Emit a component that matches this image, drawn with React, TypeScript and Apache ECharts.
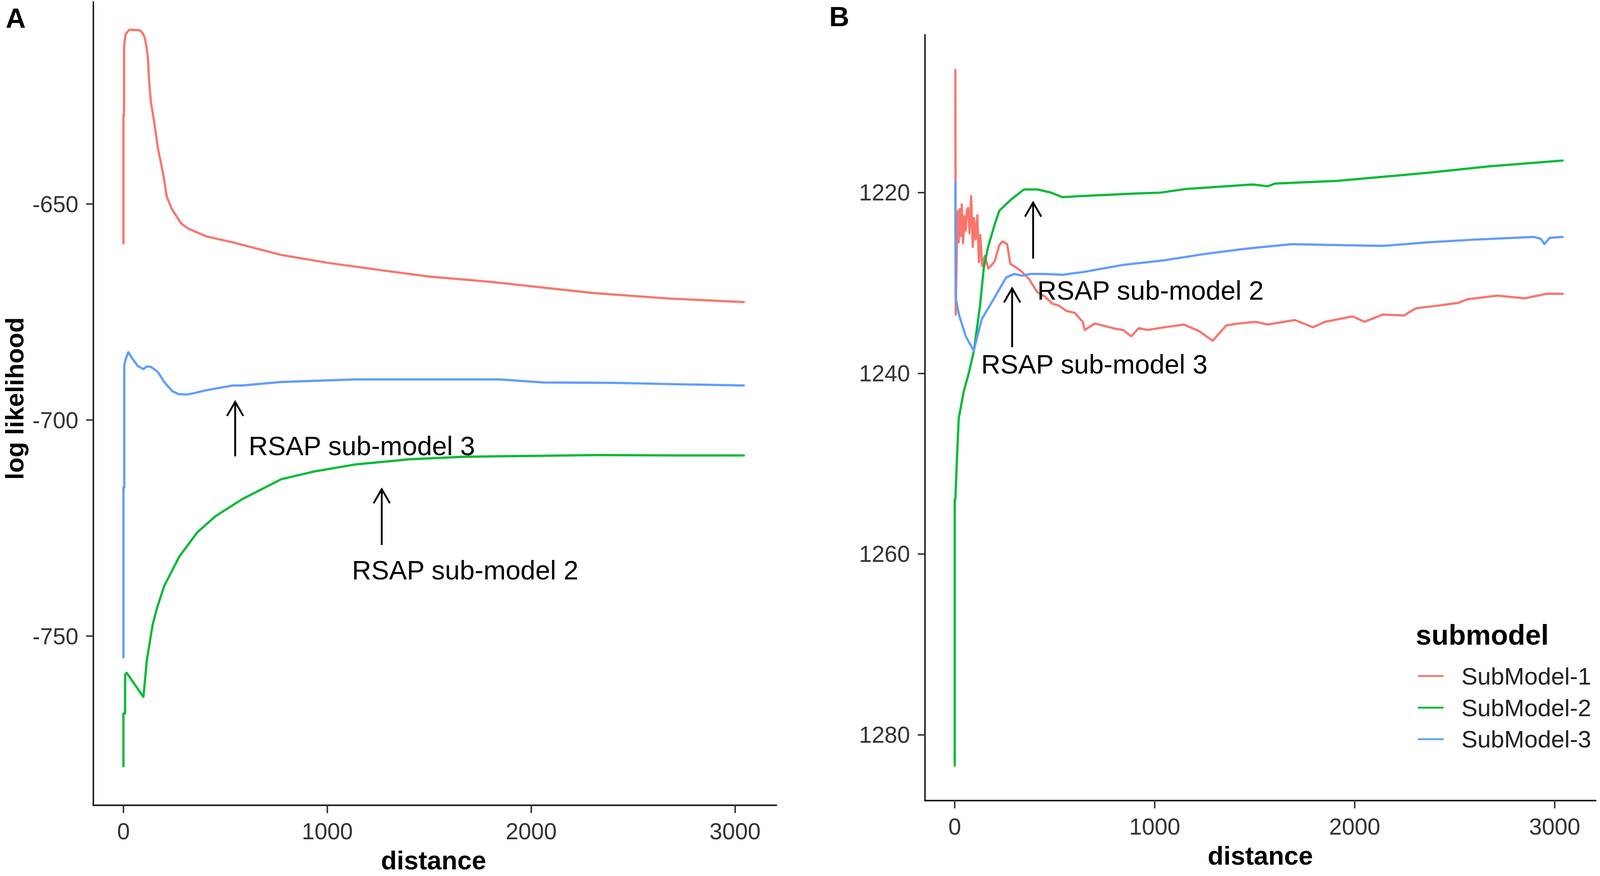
import React, { useEffect, useRef, useState } from "react";
import * as echarts from "echarts";

const FONT = "'Liberation Sans', Arial, Helvetica, sans-serif";

const seriesNames = ["SubModel-1", "SubModel-2", "SubModel-3"];
const seriesColors = ["#F8766D", "#00BA38", "#619CFF"];

const xTickValues = [0, 1000, 2000, 3000];
const yTickValuesA = [-750, -700, -650];
const yTickValuesB = [1220, 1240, 1260, 1280];

// Panel A (distance, log likelihood)
const redA: [number, number][] = [
  [0, -659.1], [0, -629.5], [3, -629.5], [3, -613.5], [10, -610.8], [28, -609.7], [46, -609.7],
  [80, -609.8], [95, -610.5], [103, -611.3], [112, -613.3], [120, -616.1], [125, -621.0],
  [134, -626.2], [151, -631.1], [169, -637.1], [195, -643.1], [213, -648.4], [239, -651.3],
  [283, -654.5], [318, -655.7], [407, -657.5], [538, -658.9], [774, -661.8], [1000, -663.6],
  [1291, -665.5], [1500, -666.8], [1797, -668.0], [2303, -670.6], [2683, -671.9], [3043, -672.7],
];
const greenA: [number, number][] = [
  [0, -780.1], [0, -767.9], [8, -767.9], [8, -759.0], [16, -758.5], [98, -764.1], [115, -755.5],
  [143, -747.4], [164, -743.6], [200, -738.4], [274, -731.6], [362, -726.0], [450, -722.3],
  [583, -718.3], [774, -713.7], [936, -711.9], [1134, -710.3], [1291, -709.6], [1398, -709.1],
  [1662, -708.5], [2000, -708.3], [2322, -708.1], [2700, -708.2], [3043, -708.2],
];
const blueA: [number, number][] = [
  [0, -754.9], [0, -715.6], [4, -715.6], [4, -687.5], [10, -686.0], [24, -684.3], [40, -685.5],
  [70, -687.5], [98, -688.2], [115, -687.6], [134, -687.7], [150, -688.2], [169, -688.9],
  [200, -691.2], [239, -693.3], [270, -694.0], [310, -694.1], [343, -693.8], [406, -693.1],
  [538, -692.0], [581, -692.0], [774, -691.2], [1134, -690.6], [1847, -690.6], [2059, -691.3],
  [2412, -691.4], [2700, -691.7], [3043, -692.0],
];

// Panel B (distance, reversed scale)
const redB: [number, number][] = [
  [3, 1206.4], [5, 1233.5], [11, 1225.3], [16, 1222.0], [20, 1225.5], [26, 1221.8], [31, 1224.8],
  [35, 1221.3], [42, 1225.6], [48, 1222.6], [55, 1224.2], [61, 1221.9], [67, 1221.7], [74, 1224.5],
  [82, 1220.4], [90, 1226.0], [96, 1222.8], [104, 1225.2], [113, 1222.5], [121, 1227.7],
  [128, 1224.7], [137, 1228.1], [150, 1227.0], [168, 1228.4], [185, 1228.0], [200, 1227.6],
  [223, 1225.8], [239, 1225.4], [262, 1225.7], [278, 1227.9], [294, 1228.1], [333, 1228.7],
  [373, 1229.6], [412, 1231.0], [450, 1231.5], [489, 1232.3], [520, 1232.5], [559, 1233.1],
  [600, 1233.3], [640, 1234.3], [650, 1235.2], [700, 1234.5], [741, 1234.7], [790, 1235.0],
  [842, 1235.2], [883, 1235.9], [920, 1235.0], [964, 1235.2], [1050, 1234.9], [1145, 1234.6],
  [1220, 1235.3], [1290, 1236.4], [1358, 1234.7], [1415, 1234.5], [1504, 1234.3], [1565, 1234.6],
  [1700, 1234.1], [1792, 1234.9], [1852, 1234.3], [1989, 1233.7], [2049, 1234.3], [2140, 1233.5],
  [2246, 1233.6], [2306, 1232.8], [2420, 1232.5], [2518, 1232.2], [2564, 1231.8], [2715, 1231.4],
  [2851, 1231.7], [2958, 1231.2], [3040, 1231.2],
];
const greenB: [number, number][] = [
  [0, 1283.4], [0, 1254.0], [3, 1254.0], [10, 1250.0], [20, 1245.0], [45, 1242.0], [70, 1240.0],
  [95, 1237.6], [126, 1232.6], [146, 1228.2], [167, 1226.0], [200, 1223.5], [223, 1222.0],
  [280, 1220.8], [346, 1219.65], [414, 1219.65], [482, 1220.0], [538, 1220.5], [616, 1220.4],
  [897, 1220.1], [1029, 1220.0], [1155, 1219.6], [1489, 1219.1], [1565, 1219.3], [1600, 1219.0],
  [1913, 1218.7], [2367, 1217.8], [2669, 1217.1], [3040, 1216.45],
];
const blueB: [number, number][] = [
  [3, 1218.8], [5, 1231.7], [21, 1233.5], [55, 1235.9], [95, 1237.5], [135, 1234.0],
  [197, 1231.7], [257, 1229.4], [297, 1229.0], [337, 1229.2], [378, 1229.0], [450, 1229.0],
  [540, 1229.1], [600, 1228.9], [640, 1228.8], [740, 1228.4], [842, 1228.0], [1044, 1227.5],
  [1247, 1226.8], [1458, 1226.2], [1686, 1225.7], [1900, 1225.8], [2140, 1225.9], [2367, 1225.5],
  [2600, 1225.2], [2896, 1224.9], [2930, 1225.1], [2949, 1225.7], [2975, 1225.0], [3040, 1224.9],
];

// Annotations: arrows [x, yTail, x, yTip], labels [x, y]
const arrowsA: number[][] = [[548, -708.4, 548, -695.8], [1267, -728.9, 1267, -716.0]];
const labelsA = [
  { text: "RSAP sub-model 3", x: 614, y: -706.0 },
  { text: "RSAP sub-model 2", x: 1121, y: -734.7 },
];
const arrowsB: number[][] = [[392, 1227.3, 392, 1221.1], [287, 1237.1, 287, 1230.6]];
const labelsB = [
  { text: "RSAP sub-model 2", x: 413, y: 1230.8 },
  { text: "RSAP sub-model 3", x: 132, y: 1239.0 },
];

const REF_W = 4550;
const REF_H = 2242;

function buildOption(W: number, H: number) {
  const sx = W / REF_W;
  const sy = H / REF_H;
  const s = Math.sqrt(sx * sy);
  const X = (v: number) => v * sx;
  const Y = (v: number) => v * sy;
  const F = (v: number) => v * s;

  const mkX = (gridIndex: number, min: number, max: number) => ({
    type: "value",
    gridIndex,
    min,
    max,
    axisLine: { show: true, onZero: false, lineStyle: { color: "#1a1a1a", width: F(4) } },
    axisTick: { show: true, inside: false, length: Y(20), customValues: xTickValues, lineStyle: { color: "#333", width: F(4) } },
    axisLabel: {
      show: true,
      customValues: xTickValues,
      margin: Y(37),
      fontSize: F(62),
      color: "#333",
      fontFamily: FONT,
      formatter: (v: number) => String(v),
    },
    splitLine: { show: false },
  });

  const mkY = (gridIndex: number, min: number, max: number, ticks: number[], inverse: boolean) => ({
    type: "value",
    gridIndex,
    min,
    max,
    inverse,
    axisLine: { show: true, onZero: false, lineStyle: { color: "#1a1a1a", width: F(4) } },
    axisTick: { show: true, inside: false, length: X(20), customValues: ticks, lineStyle: { color: "#333", width: F(4) } },
    axisLabel: {
      show: true,
      customValues: ticks,
      margin: X(42),
      fontSize: F(62),
      color: "#333",
      fontFamily: FONT,
      formatter: (v: number) => String(v),
    },
    splitLine: { show: false },
  });

  const lineSeries = (name: string, color: string, data: [number, number][], idx: number) => ({
    type: "line",
    name,
    xAxisIndex: idx,
    yAxisIndex: idx,
    data,
    showSymbol: false,
    symbol: "none",
    lineStyle: { width: F(6), color, join: "round", cap: "round" },
    itemStyle: { color },
    emphasis: { disabled: true },
    silent: true,
    z: 2,
  });

  const arrowSeries = (data: number[][], idx: number) => ({
    type: "custom",
    xAxisIndex: idx,
    yAxisIndex: idx,
    data,
    silent: true,
    clip: false,
    z: 5,
    encode: { x: [0, 2], y: [1, 3] },
    renderItem: (_p: any, api: any) => {
      const tail = api.coord([api.value(0), api.value(1)]);
      const tip = api.coord([api.value(2), api.value(3)]);
      const dx = tip[0] - tail[0];
      const dy = tip[1] - tail[1];
      const len = Math.sqrt(dx * dx + dy * dy) || 1;
      const ux = dx / len;
      const uy = dy / len;
      const back = F(38);
      const half = F(22);
      const bx = tip[0] - ux * back;
      const by = tip[1] - uy * back;
      return {
        type: "group",
        children: [
          { type: "line", shape: { x1: tail[0], y1: tail[1], x2: tip[0], y2: tip[1] }, style: { stroke: "#000", lineWidth: F(5) } },
          {
            type: "polyline",
            shape: { points: [[bx - uy * half, by + ux * half], [tip[0], tip[1]], [bx + uy * half, by - ux * half]] },
            style: { stroke: "#000", lineWidth: F(5), fill: null },
          },
        ],
      };
    },
  });

  const labelSeries = (labels: { text: string; x: number; y: number }[], idx: number) => ({
    type: "custom",
    xAxisIndex: idx,
    yAxisIndex: idx,
    data: labels.map((l) => [l.x, l.y]),
    silent: true,
    clip: false,
    z: 6,
    renderItem: (p: any, api: any) => {
      const pt = api.coord([api.value(0), api.value(1)]);
      return {
        type: "text",
        x: pt[0],
        y: pt[1],
        style: {
          text: labels[p.dataIndex].text,
          fontSize: F(72),
          fontFamily: FONT,
          fill: "#000",
          align: "left",
          verticalAlign: "middle",
        },
      };
    },
  });

  const txt = (text: string, x: number, y: number, size: number, align: string, rotation = 0) => ({
    type: "text",
    x: X(x),
    y: Y(y),
    rotation,
    style: { text, fontSize: F(size), fontWeight: "bold", fill: "#000", fontFamily: FONT, align, verticalAlign: "middle" },
  });

  return {
    animation: false,
    backgroundColor: "#ffffff",
    textStyle: { fontFamily: FONT },
    grid: [
      { left: X(265), right: X(2342), top: Y(5), bottom: Y(181), containLabel: false, outerBoundsMode: "none" },
      { left: X(2630), right: X(12), top: Y(89), bottom: Y(193), containLabel: false, outerBoundsMode: "none" },
    ],
    xAxis: [mkX(0, -148.4, 3203), mkX(1, -149.5, 3205.6)],
    yAxis: [mkY(0, -789.15, -603.25, yTickValuesA, false), mkY(1, 1202.53, 1287.29, yTickValuesB, true)],
    legend: {
      show: true,
      orient: "vertical",
      left: X(4027),
      top: Y(1694.5),
      padding: 5 * s,
      itemGap: Y(80.5) - F(65),
      itemWidth: X(73),
      itemHeight: F(5),
      icon: "rect",
      selectedMode: false,
      data: seriesNames,
      textStyle: { fontSize: F(65), lineHeight: F(65), color: "#222", fontFamily: FONT, padding: [0, 0, 0, X(45)] },
    },
    graphic: [
      txt("A", 16, 46, 75, "left"),
      txt("B", 2358, 42, 75, "left"),
      txt("log likelihood", 42, 1020, 68, "center", Math.PI / 2),
      txt("distance", 1233, 2202, 70, "center"),
      txt("distance", 3584, 2190, 70, "center"),
      txt("submodel", 4026, 1625, 76, "left"),
    ],
    series: [
      lineSeries(seriesNames[0], seriesColors[0], redA, 0),
      lineSeries(seriesNames[1], seriesColors[1], greenA, 0),
      lineSeries(seriesNames[2], seriesColors[2], blueA, 0),
      lineSeries(seriesNames[0], seriesColors[0], redB, 1),
      lineSeries(seriesNames[1], seriesColors[1], greenB, 1),
      lineSeries(seriesNames[2], seriesColors[2], blueB, 1),
      arrowSeries(arrowsA, 0),
      arrowSeries(arrowsB, 1),
      labelSeries(labelsA, 0),
      labelSeries(labelsB, 1),
    ],
  };
}

export default function App() {
  const ref = useRef<HTMLDivElement>(null);
  const [size] = useState(() => ({
    w: window.innerWidth || REF_W,
    h: window.innerHeight || REF_H,
  }));
  useEffect(() => {
    if (!ref.current) return;
    const chart = echarts.init(ref.current, null, { renderer: "svg" });
    chart.setOption(buildOption(size.w, size.h) as any);
    return () => chart.dispose();
  }, [size]);
  return (
    <div
      ref={ref}
      style={{ position: "fixed", left: 0, top: 0, width: size.w, height: size.h, background: "#fff" }}
    />
  );
}
